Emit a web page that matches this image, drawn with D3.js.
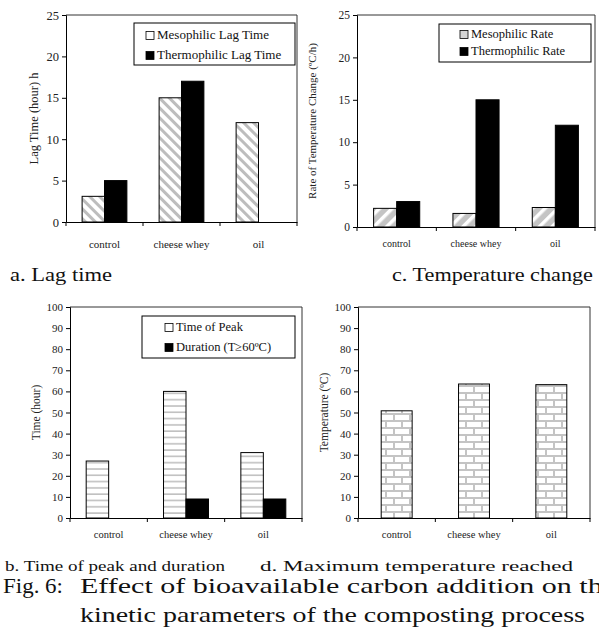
<!DOCTYPE html>
<html>
<head>
<meta charset="utf-8">
<script src="https://cdn.jsdelivr.net/npm/d3@7"></script>
<style>
  body { margin: 0; background: #fff; }
  svg { display: block; font-family: "Liberation Serif", "Times New Roman", serif; }
</style>
</head>
<body>
<div id="vis"></div>
<script>
var width = 599
var height = 637

// chart data
var categories = ["control", "cheese whey", "oil"]
var lagMeso = [3.1, 15, 12]
var lagThermo = [5, 17, 0]
var rateMeso = [2.2, 1.6, 2.3]
var rateThermo = [3.0, 15, 12]
var peakTime = [27, 60, 31]
var duration = [0, 9, 9]
var maxTemp = [50.8, 63.5, 63.2]
var ticks25 = [0, 5, 10, 15, 20, 25]
var ticks100 = [0, 10, 20, 30, 40, 50, 60, 70, 80, 90, 100]

var svg = d3.select('#vis').append('svg')
  .attr('width', width)
  .attr('height', height)

//fill patterns
var defs = svg.append('defs')

var p1 = defs.append('pattern').attr('id', 'diagA')
  .attr('patternUnits', 'userSpaceOnUse').attr('width', 7).attr('height', 7)
  .attr('patternTransform', 'rotate(-45)')
p1.append('rect').attr('width', 7).attr('height', 7).attr('fill', '#fff')
p1.append('rect').attr('width', 3).attr('height', 7).attr('fill', '#bdbdbd')

var p2 = defs.append('pattern').attr('id', 'diagC')
  .attr('patternUnits', 'userSpaceOnUse').attr('width', 9).attr('height', 9)
  .attr('patternTransform', 'rotate(45)')
p2.append('rect').attr('width', 9).attr('height', 9).attr('fill', '#c4c4c4')
p2.append('rect').attr('width', 3.5).attr('height', 9).attr('fill', '#fff')

var p3 = defs.append('pattern').attr('id', 'hlines')
  .attr('patternUnits', 'userSpaceOnUse').attr('width', 8).attr('height', 6.3)
p3.append('rect').attr('width', 8).attr('height', 6.3).attr('fill', '#fff')
p3.append('rect').attr('y', 2).attr('width', 8).attr('height', 1.6).attr('fill', '#c0c0c0')

var p4 = defs.append('pattern').attr('id', 'brick')
  .attr('patternUnits', 'userSpaceOnUse').attr('width', 16).attr('height', 14)
  .attr('y', 518)
p4.append('rect').attr('width', 16).attr('height', 14).attr('fill', '#fff')
p4.append('rect').attr('y', 0).attr('width', 16).attr('height', 2).attr('fill', '#c4c4c4')
p4.append('rect').attr('y', 7).attr('width', 16).attr('height', 2).attr('fill', '#c4c4c4')
p4.append('rect').attr('x', 1).attr('y', 0).attr('width', 2).attr('height', 7).attr('fill', '#c4c4c4')
p4.append('rect').attr('x', 9).attr('y', 7).attr('width', 2).attr('height', 7).attr('fill', '#c4c4c4')

function drawPanel(cfg){
  var g = svg.append('g')
  var x = d3.scaleBand().domain(categories).range([cfg.x0, cfg.x1])
  var y = d3.scaleLinear().domain([0, cfg.max]).range([cfg.yBot, cfg.yTop])
  var names = cfg.series.map(s => s.name)
  var sub = d3.scaleBand().domain(names).range([0, x.bandwidth()])
    .paddingInner(0).paddingOuter(cfg.series.length > 1 ? 0.72 : 0.75)

  //plot frame (top and right)
  g.append('path')
    .attr('d', 'M' + cfg.x0 + ',' + cfg.yTop + 'H' + cfg.x1 + 'V' + cfg.yBot)
    .attr('fill', 'none').attr('stroke', '#333').attr('stroke-width', 1)

  cfg.series.forEach(function(s){
    g.selectAll(null)
      .data(categories.map((c, i) => ({cat: c, v: s.values[i]})).filter(d => d.v > 0))
      .enter()
      .append('rect')
      .attr('x', d => x(d.cat) + sub(s.name))
      .attr('y', d => y(d.v))
      .attr('width', sub.bandwidth())
      .attr('height', d => y(0) - y(d.v))
      .attr('fill', s.fill)
      .attr('stroke', '#000')
      .attr('stroke-width', 1)
  })

  //y axis
  var ya = g.append('g').attr('transform', 'translate(' + cfg.x0 + ',0)')
    .call(d3.axisLeft(y).tickValues(cfg.ticks).tickSize(4).tickPadding(3))
  ya.attr('font-family', null).attr('font-size', null)
  ya.select('.domain').attr('stroke', '#000')
  ya.selectAll('text').style('font-size', cfg.tickFont + 'px').attr('fill', '#222')

  //x axis, labels centred, ticks on band edges
  var xa = g.append('g').attr('transform', 'translate(0,' + cfg.yBot + ')')
    .call(d3.axisBottom(x).tickSize(0).tickPadding(cfg.labelPad).tickSizeOuter(0))
  xa.attr('font-family', null).attr('font-size', null)
  xa.select('.domain').attr('stroke', '#000')
  xa.selectAll('text').style('font-size', cfg.catFont + 'px').attr('fill', '#222')
  var edges = categories.map(c => x(c)).concat([cfg.x1])
  g.selectAll(null).data(edges).enter().append('line')
    .attr('x1', d => d).attr('x2', d => d)
    .attr('y1', cfg.yBot).attr('y2', cfg.yBot + 4)
    .attr('stroke', '#000')

  //axis title
  g.append('text')
    .attr('transform', 'translate(' + cfg.titleX + ',' + ((cfg.yTop + cfg.yBot) / 2) + ') rotate(-90)')
    .attr('text-anchor', 'middle')
    .style('font-size', cfg.titleFont + 'px')
    .attr('fill', '#222')
    .text(cfg.title)

  //legend
  if(cfg.legend){
    var L = cfg.legend
    g.append('rect')
      .attr('x', L.x).attr('y', L.y).attr('width', L.w).attr('height', L.h)
      .attr('fill', '#fff').attr('stroke', '#000').attr('stroke-width', 1)
    cfg.series.forEach(function(s, i){
      var ly = L.y + L.first + i * L.step
      g.append('rect')
        .attr('x', L.sx).attr('y', ly - 7.5).attr('width', 8).attr('height', 8)
        .attr('fill', s.swatch).attr('stroke', '#000').attr('stroke-width', 0.8)
      g.append('text')
        .attr('x', L.sx + 11).attr('y', ly)
        .style('font-size', L.font + 'px')
        .attr('fill', '#111')
        .text(s.name)
    })
  }
}

// a. lag time
drawPanel({
  x0: 66, x1: 297, yTop: 15, yBot: 222, max: 25, ticks: ticks25,
  tickFont: 12.5, catFont: 11, labelPad: 18,
  title: 'Lag Time (hour)  h', titleX: 38, titleFont: 12.5,
  series: [
    {name: 'Mesophilic Lag Time', values: lagMeso, fill: 'url(#diagA)', swatch: '#fff'},
    {name: 'Thermophilic Lag Time', values: lagThermo, fill: '#000', swatch: '#000'}
  ],
  legend: {x: 134, y: 23, w: 161, h: 42, sx: 146, first: 16, step: 20, font: 13}
})

// c. temperature change rate
drawPanel({
  x0: 357, x1: 595, yTop: 15, yBot: 227, max: 25, ticks: ticks25,
  tickFont: 11.5, catFont: 10, labelPad: 13,
  title: 'Rate of Temperature Change (ºC/h)', titleX: 316, titleFont: 11,
  series: [
    {name: 'Mesophilic Rate', values: rateMeso, fill: 'url(#diagC)', swatch: '#d4d4d4'},
    {name: 'Thermophilic Rate', values: rateThermo, fill: '#000', swatch: '#000'}
  ],
  legend: {x: 439, y: 24, w: 152, h: 38, sx: 460, first: 14, step: 17, font: 12.5}
})

// b. time of peak and duration
drawPanel({
  x0: 70, x1: 302, yTop: 307, yBot: 518, max: 100, ticks: ticks100,
  tickFont: 11, catFont: 10.5, labelPad: 13,
  title: 'Time (hour)', titleX: 40, titleFont: 11.5,
  series: [
    {name: 'Time of Peak', values: peakTime, fill: 'url(#hlines)', swatch: '#fff'},
    {name: 'Duration (T≥60ºC)', values: duration, fill: '#000', swatch: '#000'}
  ],
  legend: {x: 142, y: 316, w: 153, h: 42, sx: 165, first: 15, step: 20, font: 12.5}
})

// d. maximum temperature
drawPanel({
  x0: 358, x1: 590, yTop: 307, yBot: 518, max: 100, ticks: ticks100,
  tickFont: 11, catFont: 10.5, labelPad: 13,
  title: 'Temperature (ºC)', titleX: 328, titleFont: 11.5,
  series: [
    {name: 'Max Temperature', values: maxTemp, fill: 'url(#brick)', swatch: '#fff'}
  ]
})

//captions
function caption(txt, x, y, size, len){
  var t = svg.append('text').attr('x', x).attr('y', y)
    .style('font-size', size + 'px').attr('fill', '#111').text(txt)
  if(len) t.attr('textLength', len).attr('lengthAdjust', 'spacingAndGlyphs')
  return t
}
caption('a. Lag time', 10, 281, 19, 102)
caption('c. Temperature change', 392, 281, 19, 201)
caption('b. Time of peak and duration', 5, 571, 15.5, 220)
caption('d. Maximum temperature reached', 260, 571, 15.5, 313)
caption('Fig. 6:', 3, 593, 21, 60)
caption('Effect of bioavailable carbon addition on the', 80, 593, 21, 536)
caption('kinetic parameters of the composting process', 80, 622, 21, 505)
</script>
</body>
</html>
